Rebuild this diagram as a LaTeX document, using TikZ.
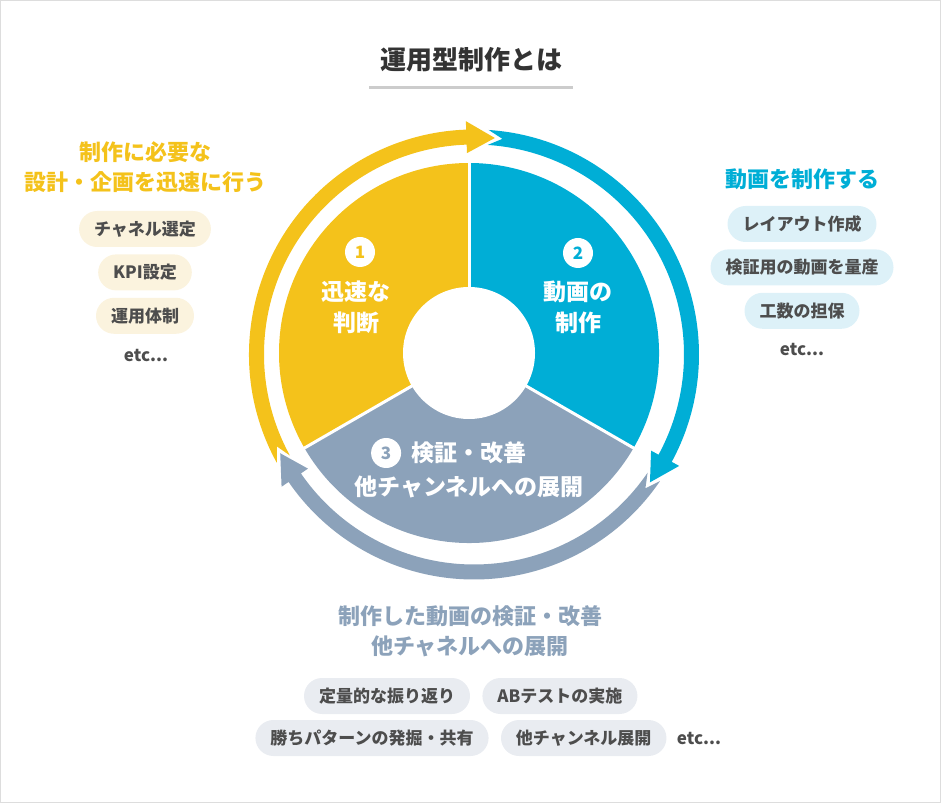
\documentclass[tikz,border=0pt]{standalone}
\usepackage{fontspec}
\setmainfont{Noto Sans CJK JP}
\usetikzlibrary{positioning}

\definecolor{planyellow}{HTML}{F4C21B}
\definecolor{makeblue}{HTML}{00AED6}
\definecolor{checkgray}{HTML}{8CA2BA}
\definecolor{softyellow}{HTML}{FBF3DE}
\definecolor{softblue}{HTML}{DDF1F8}
\definecolor{softgray}{HTML}{E9ECF1}
\definecolor{bodytext}{HTML}{4D4D4D}
\definecolor{titlegray}{HTML}{333333}
\definecolor{bargray}{HTML}{CCCCCC}
\definecolor{framegray}{HTML}{DDDDDD}

% one arrow of the ring: colour, tail angle, tip angle (clockwise)
\newcommand{\cyclearrow}[3]{%
  \fill[#1] (#2:225) arc[start angle=#2, end angle=#3+7.5, radius=225]
    -- ({#3+7.5}:233.5) -- (#3:217.5) -- ({#3+7.5}:201.5) -- ({#3+7.5}:210)
    arc[start angle=#3+7.5, end angle=#2, radius=210]
    -- ({#2-3.75}:217.5) -- cycle;}

\tikzset{
  pill/.style={rounded corners=18pt, minimum height=36pt, inner xsep=15pt, inner ysep=0pt,
    text=bodytext, font=\fontsize{17}{20}\selectfont\bfseries},
  pillY/.style={pill, fill=softyellow},
  pillB/.style={pill, fill=softblue},
  pillG/.style={pill, fill=softgray},
  etcnote/.style={text=bodytext, inner sep=2pt, font=\fontsize{17}{20}\selectfont\bfseries},
  headtext/.style={align=center, inner sep=0pt, font=\fontsize{22}{30}\selectfont\bfseries},
  steptext/.style={align=center, inner sep=0pt, text=white, font=\fontsize{23}{31}\selectfont\bfseries},
  numdot/.style={circle, fill=white, minimum size=30pt, inner sep=0pt, font=\fontsize{17}{17}\selectfont\bfseries}
}

\begin{document}
\begin{tikzpicture}[x=1pt, y=1pt, node distance=7pt]
\useasboundingbox (0,0) rectangle (941,803);
\draw[framegray] (0.5,0.5) rectangle (940.5,802.5);

% title
\node[font=\fontsize{26}{30}\selectfont\bfseries, text=titlegray] (title) at (471,743) {運用型制作とは};
\draw[bargray, line width=3.5pt] (369,715.5) -- (573,715.5);

% pie
\begin{scope}[shift={(469,450)}]
\fill[planyellow] (0,0) -- (90:190) arc[start angle=90, end angle=210, radius=190] -- cycle;
\fill[makeblue] (0,0) -- (-30:190) arc[start angle=-30, end angle=90, radius=190] -- cycle;
\fill[checkgray] (0,0) -- (210:190) arc[start angle=210, end angle=330, radius=190] -- cycle;
\foreach \a in {90,210,330} \draw[white, line width=3pt] (0,0) -- (\a:192);
\fill[white] (0,0) circle[radius=66];
\end{scope}

% ring
\begin{scope}[shift={(474,448.5)}]
\cyclearrow{planyellow}{208.75}{84.5}
\cyclearrow{makeblue}{86.25}{-36}
\cyclearrow{checkgray}{-34.25}{-153}
\end{scope}

% steps
\node[numdot, text=planyellow] (n1) at (360,551) {1};
\node[steptext] (s1) at (356,495.5) {迅速な\\判断};
\node[numdot, text=makeblue] (n2) at (578,550) {2};
\node[steptext] (s2) at (578,495.5) {動画の\\制作};
\node[steptext] (s3a) at (469,350) {検証・改善};
\node[numdot, text=checkgray, left=10pt of s3a] (n3) {3};
\node[steptext] (s3b) at (469,316) {他チャンネルへの展開};

% left
\node[headtext, text=planyellow] (aim1) at (145,635.5) {制作に必要な\\設計・企画を迅速に行う};
\node[pillY] (p11) at (145,574) {チャネル選定};
\node[pillY, below=of p11] (p12) {KPI設定};
\node[pillY, below=of p12] (p13) {運用体制};
\node[etcnote] (p14) at (146,447) {etc...};

% right
\node[headtext, text=makeblue] (aim2) at (802,624) {動画を制作する};
\node[pillB] (p21) at (802,579) {レイアウト作成};
\node[pillB, below=of p21] (p22) {検証用の動画を量産};
\node[pillB, below=of p22] (p23) {工数の担保};
\node[etcnote] (p24) at (802,453) {etc...};

% bottom
\node[headtext, text=checkgray] (aim3) at (470,172) {制作した動画の検証・改善\\他チャネルへの展開};
\node[pillG] (p31) at (387,107) {定量的な振り返り};
\node[pillG, right=12pt of p31] (p32) {ABテストの実施};
\node[pillG] (p33) at (372,65) {勝ちパターンの発掘・共有};
\node[pillG, right=12pt of p33] (p34) {他チャンネル展開};
\node[etcnote, right=8pt of p34] (p35) {etc...};

\end{tikzpicture}
\end{document}
